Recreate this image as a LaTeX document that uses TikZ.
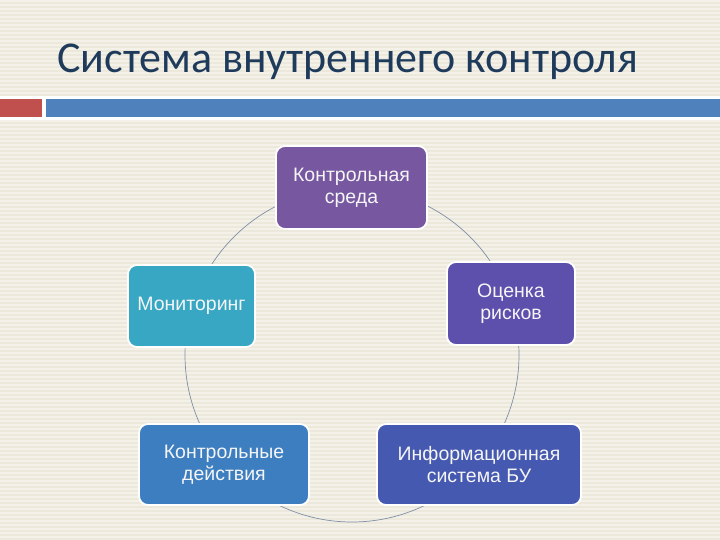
\documentclass[tikz,border=0pt]{standalone}
\usepackage{fontspec}
\setmainfont{Liberation Sans}
\newfontfamily\titlefont{Carlito}
\definecolor{bgc}{HTML}{ECE8DC}
\definecolor{stripec}{HTML}{F4F1E8}
\definecolor{titlec}{HTML}{1F3B5C}
\definecolor{redbar}{HTML}{C0504D}
\definecolor{bluebar}{HTML}{4F81BD}
\definecolor{ringc}{HTML}{7F8FA6}
\definecolor{cA}{HTML}{7657A0}
\definecolor{cB}{HTML}{5D4FAC}
\definecolor{cC}{HTML}{4659B0}
\definecolor{cD}{HTML}{3D7EC0}
\definecolor{cE}{HTML}{37A7C3}
\tikzset{
  boxst/.style={draw=white, line width=1.8pt, rounded corners=9pt, text=white!92!gray,
    align=center, font=\fontsize{19.5}{22}\selectfont, inner sep=0pt},
}
\begin{document}
\begin{tikzpicture}[x=1pt,y=-1pt]
\useasboundingbox (0,0) rectangle (720,540);
\fill[bgc] (0,0) rectangle (720,540);
\foreach \i in {0,...,134}{
  \fill[stripec] (0,\i*4) rectangle (720,\i*4+1.6);
}
% title
\node[anchor=base west, inner sep=0pt, text=titlec, font=\titlefont\fontsize{44}{50}\selectfont] (title) at (57,73) {Система внутреннего контроля};
% bars
\fill[white] (0,96) rectangle (720,120);
\fill[redbar] (0,99) rectangle (42,117);
\fill[bluebar] (46,99) rectangle (720,117);
% ring
\coordinate (ctr) at (352,355);
\draw[ringc, line width=0.7pt] (ctr) circle[radius=167];
% boxes
\node[boxst, fill=cA, minimum width=151pt, minimum height=83pt] (env) at (351.5,187.5) {Контрольная\\среда};
\node[boxst, fill=cB, minimum width=128pt, minimum height=83pt] (risk) at (511,303.5) {Оценка\\рисков};
\node[boxst, fill=cC, minimum width=204pt, minimum height=81pt] (info) at (479,464.5) {Информационная\\система БУ};
\node[boxst, fill=cD, minimum width=170pt, minimum height=81pt] (act) at (224,464.5) {Контрольные\\действия};
\node[boxst, fill=cE, minimum width=127pt, minimum height=82pt] (mon) at (191.5,306) {Мониторинг};
\end{tikzpicture}
\end{document}
